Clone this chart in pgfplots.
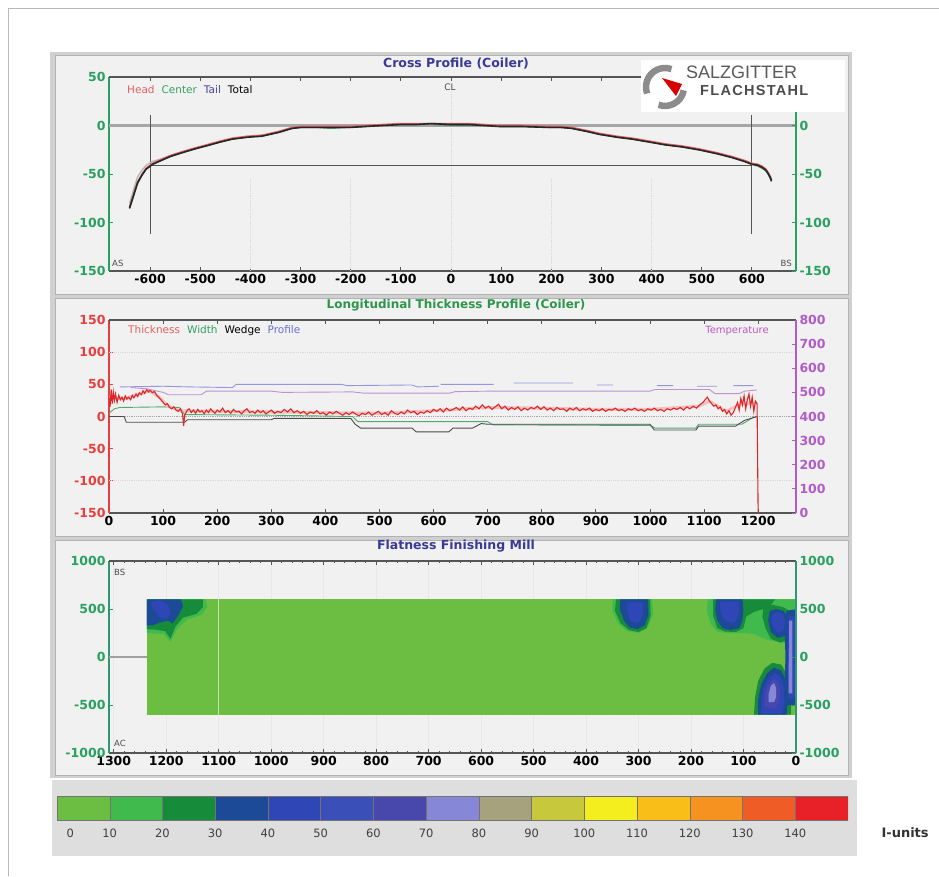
\documentclass[border=0pt]{standalone}
\usepackage{pgfplots}
\pgfplotsset{compat=1.18}
\usepackage{fontspec}
\setmainfont{DejaVu Sans}
\newfontfamily\logofont{Liberation Sans}
\newfontfamily\logowide[LetterSpace=9]{Liberation Sans}

% screen colours
\definecolor{panelbg}{RGB}{241,241,241}
\definecolor{frame}{RGB}{208,208,208}
\definecolor{frameline}{RGB}{178,178,178}
\definecolor{cbbg}{RGB}{222,222,222}
\definecolor{axgreen}{RGB}{40,160,95}
\definecolor{axteal}{RGB}{45,150,115}
\definecolor{axred}{RGB}{232,62,62}
\definecolor{axpurple}{RGB}{178,92,200}
\definecolor{navy}{RGB}{58,58,150}
\definecolor{tgreen}{RGB}{45,150,75}
\definecolor{axdark}{RGB}{85,85,85}
\definecolor{logogray}{RGB}{140,140,140}
% flatness classes in I-units
\definecolor{iu0}{RGB}{108,190,66}
\definecolor{iu1}{RGB}{64,186,76}
\definecolor{iu2}{RGB}{22,140,58}
\definecolor{iu3}{RGB}{28,74,150}
\definecolor{iu4}{RGB}{46,70,182}
\definecolor{iu5}{RGB}{58,80,184}
\definecolor{iu6}{RGB}{72,72,172}
\definecolor{iu7}{RGB}{135,135,215}
\definecolor{iu8}{RGB}{165,162,125}
\definecolor{iu9}{RGB}{200,200,60}
\definecolor{iu10}{RGB}{245,238,30}
\definecolor{iu11}{RGB}{250,190,25}
\definecolor{iu12}{RGB}{246,146,32}
\definecolor{iu13}{RGB}{240,92,38}
\definecolor{iu14}{RGB}{232,32,40}
% series colours
\definecolor{lhead}{RGB}{232,96,96}
\definecolor{lcenter}{RGB}{50,160,100}
\definecolor{ltail}{RGB}{70,70,150}
\definecolor{thk}{RGB}{220,40,40}
\definecolor{thkhalo}{RGB}{245,170,170}
\definecolor{wdg}{RGB}{75,75,75}
\definecolor{wid}{RGB}{80,170,110}
\definecolor{prof}{RGB}{150,150,222}
\definecolor{temp}{RGB}{190,145,210}
\definecolor{lprof}{RGB}{110,110,210}
\definecolor{ltemp}{RGB}{190,90,190}

\pgfplotsset{
  panel/.style={
    scale only axis, width=687pt, anchor=south west,
    /pgf/number format/assume math mode=true,
    /pgf/number format/1000 sep={},
    tick label style={font=\bfseries\fontsize{12.5}{13}\selectfont},
    axis line style={-},
    major tick length=4pt, minor tick length=2pt,
    every x tick/.append style={draw=axdark, line width=0.8pt},
  },
  overlay/.style={panel, axis x line*=top, axis y line*=right,
    xticklabels={}, x axis line style={draw=axdark, line width=1.1pt}},
}

\pgfplotstableread{
x     head  center tail  total
-641  -84   -86    -80   -85
-633  -71   -73    -66   -72
-625  -58   -60    -53   -59
-616  -50   -51    -46   -51
-608  -44   -45    -41   -45
-595  -39   -40    -37   -40
-582  -36   -37    -35   -37
-560  -31   -32    -31   -32
-536  -27   -28    -27   -28
-510  -23   -24    -24   -24
-488  -20   -21    -21   -21
-460  -16   -17    -17   -17
-436  -13   -14    -14   -14
-405  -11   -12    -12   -12
-377  -10   -11    -10   -11
-360  -8    -9     -9    -9
-343  -6    -7     -7    -7
-330  -4    -5     -5    -5
-317  -2    -3     -3    -3
-300  -1    -2     -2    -2
-269  -1    -2     -2    -2
-240  -1    -3     -2    -2
-203  -1    -2     -2    -2
-170   0    -1     -1    -1
-137   1     0      0     0
-100   2     1      1     1
-70    2     1      1     1
-40    2     1      2     2
0      2     0      1     1
36     2     0      1     1
66     1     0      0     0
96     0    -1     -1    -1
140    0    -1     -1    -1
195   -1    -2     -2    -2
220   -1    -2     -2    -2
241   -2    -3     -3    -3
270   -5    -6     -6    -6
295   -8    -9     -9    -9
330   -11   -12    -12   -12
361   -13   -14    -14   -14
395   -16   -17    -17   -17
428   -19   -20    -20   -20
460   -21   -22    -22   -22
494   -24   -25    -25   -25
530   -28   -29    -29   -29
560   -32   -33    -32   -33
585   -36   -37    -36   -37
600   -39   -40    -39   -40
612   -40   -42    -40   -41
620   -42   -44    -42   -43
628   -45   -47    -45   -46
633   -49   -51    -49   -50
637   -53   -55    -53   -54
639   -56   -58    -56   -57
}\crossprofile

\begin{document}
\begin{tikzpicture}[x=1pt,y=1pt]
\path[use as bounding box] (0,0) rectangle (939,876);
\fill[white] (0,0) rectangle (939,876);
\draw[gray!55, line width=0.8pt] (8,0) -- (8,868) -- (939,868);
% window frame and the three panels
\fill[frame] (50,98) rectangle (852,824);
\filldraw[fill=panelbg, draw=frameline] (55,582) rectangle (848,821);
\filldraw[fill=panelbg, draw=frameline] (55,340) rectangle (848,578);
\filldraw[fill=panelbg, draw=frameline] (55,101) rectangle (848,336);
\fill[cbbg] (52,20) rectangle (857,96);

% ---------------- cross profile ----------------
\begin{axis}[panel, at={(109pt,605pt)}, height=194pt,
  xmin=-682, xmax=688, ymin=-150, ymax=50,
  axis x line*=bottom, axis y line*=left,
  x axis line style={draw=axdark, line width=1.1pt},
  y axis line style={draw=axgreen, line width=1.4pt},
  xtick={-600,-500,...,600}, ytick={-150,-100,-50,0,50},
  every y tick/.append style={draw=axgreen, line width=0.8pt},
  yticklabel style={text=axgreen}]
\addplot[gray!30, densely dotted, line width=0.8pt] coordinates {(-400,-150)(-400,-55)};
\addplot[gray!30, densely dotted, line width=0.8pt] coordinates {(-200,-150)(-200,-55)};
\addplot[gray!30, densely dotted, line width=0.8pt] coordinates {(200,-150)(200,-55)};
\addplot[gray!30, densely dotted, line width=0.8pt] coordinates {(400,-150)(400,-55)};
\addplot[gray!30, densely dotted, line width=0.8pt] coordinates {(0,-150)(0,40)};
\addplot[black!35, line width=2.4pt] coordinates {(-682,0)(688,0)};
\addplot[axdark, line width=0.7pt] coordinates {(-600,-41)(600,-41)};
\addplot[axdark, line width=0.8pt] coordinates {(-600,-112)(-600,11)};
\addplot[axdark, line width=0.8pt] coordinates {(600,-112)(600,11)};
\addplot[gray!60, line width=1.2pt] table[x=x, y=tail] {\crossprofile};
\addplot[lcenter!60!gray, line width=1.2pt] table[x=x, y=center] {\crossprofile};
\addplot[lhead, line width=1.5pt] table[x=x, y=head] {\crossprofile};
\addplot[black!85, line width=1.6pt] table[x=x, y=total] {\crossprofile};
\end{axis}
\begin{axis}[overlay, at={(109pt,605pt)}, height=194pt,
  xmin=-682, xmax=688, ymin=-150, ymax=50,
  y axis line style={draw=axgreen, line width=1.4pt},
  xtick={-600,-500,...,600}, ytick={-150,-100,-50,0},
  every y tick/.append style={draw=axgreen, line width=0.8pt},
  yticklabel style={text=axgreen}]
\end{axis}

% ---------------- longitudinal thickness profile ----------------
\begin{axis}[panel, at={(109pt,363pt)}, height=193pt,
  xmin=0, xmax=1270, ymin=-150, ymax=150,
  axis x line*=bottom, axis y line*=left,
  x axis line style={draw=axdark, line width=1.1pt},
  y axis line style={draw=axred, line width=1.4pt},
  xtick={0,100,...,1200}, ytick={-150,-100,...,150},
  every y tick/.append style={draw=axred, line width=0.8pt},
  yticklabel style={text=axred}]
\addplot[gray!30, densely dotted, line width=0.8pt] coordinates {(0,100)(1270,100)};
\addplot[gray!30, densely dotted, line width=0.8pt] coordinates {(0,-100)(1270,-100)};
\addplot[gray!70, densely dotted, line width=0.8pt] coordinates {(0,0)(1270,0)};
% profile
\addplot[prof, line width=0.9pt, unbounded coords=jump] coordinates {
(20,46)(100,47)(150,46)(228,45)(235,50)(430,50)(440,48)(560,49)(570,46)(610,47)
(611,nan)(613,50)(711,50)(712,nan)(748,52)(858,52)(859,nan)(902,49)(932,49)
(933,nan)(1013,48)(1043,48)(1044,nan)(1087,47)(1124,47)(1125,nan)(1154,48)(1191,48)};
% width
\addplot[wid, line width=0.9pt] coordinates {
(0,5)(10,12)(20,14)(100,15)(130,14)(140,3)(300,2)(450,0)(460,-8)(700,-8)
(710,-13)(1000,-14)(1010,-18)(1085,-18)(1090,-12)(1170,-12)(1190,-2)(1198,0)};
% wedge
\addplot[wdg, line width=0.9pt] coordinates {
(0,0)(28,0)(32,-9)(140,-9)(145,-5)(300,-5)(305,-3)(447,-3)(455,-12)(465,-18)
(560,-18)(568,-24)(628,-24)(636,-18)(672,-18)(688,-11)(700,-12)(1000,-12)
(1008,-21)(1085,-21)(1090,-15)(1158,-15)(1175,-6)(1198,0)};
% thickness
\addplot[thkhalo, line width=3pt, opacity=0.7] coordinates {
(0,30)(10,28)(30,28)(60,36)(75,40)(90,32)(110,16)(130,9)(200,8)(400,6)(500,5)(600,9)
(700,14)(800,13)(900,11)(1000,11)(1090,16)(1110,24)(1140,8)(1170,20)(1198,20)};
\addplot[thk, line width=1.1pt] coordinates {
(0,30)(2,15)(4,42)(6,20)(8,38)(10,25)(12,35)(15,22)(18,33)(21,26)(24,30)(27,24)
(30,32)(33,27)(36,30)(40,26)(43,33)(46,29)(50,35)(53,31)(56,37)(60,34)(63,40)
(66,36)(70,42)(73,38)(76,41)(80,37)(84,39)(88,33)(92,30)(96,26)(100,22)(104,18)
(108,20)(112,14)(116,12)(120,15)(124,10)(128,8)(132,12)(136,4)(138,-15)(140,2)
(144,9)(148,12)(152,6)(156,10)(160,5)(164,11)(168,7)(172,9)(176,4)(180,10)
(184,6)(188,12)(192,8)(196,5)(200,10)(205,7)(210,13)(215,6)(220,9)(225,5)
(230,11)(235,7)(240,8)(245,4)(250,9)(255,12)(260,6)(265,8)(270,5)(275,10)
(280,6)(285,9)(290,4)(295,7)(300,10)(306,5)(312,8)(318,6)(324,11)(330,7)
(336,12)(342,6)(348,9)(354,5)(360,8)(366,3)(372,7)(378,5)(384,9)(390,4)
(396,6)(402,2)(408,7)(414,4)(420,8)(426,5)(432,2)(438,6)(444,3)(450,7)
(456,4)(462,1)(468,5)(474,3)(480,7)(486,2)(492,5)(498,8)(504,3)(510,6)
(516,2)(522,9)(528,5)(534,3)(540,7)(546,4)(552,10)(558,6)(564,8)(570,3)
(576,7)(582,5)(588,9)(594,6)(600,11)(606,8)(612,12)(618,7)(624,13)(630,9)
(636,11)(642,14)(648,10)(654,15)(660,9)(666,13)(672,11)(678,16)(684,12)
(690,18)(696,13)(702,16)(708,11)(714,15)(720,19)(726,12)(732,16)(738,10)
(744,14)(750,11)(756,15)(762,9)(768,13)(774,10)(780,14)(786,12)(792,16)
(798,11)(804,15)(810,10)(816,13)(822,9)(828,14)(834,11)(840,12)(846,8)
(852,13)(858,10)(864,14)(870,9)(876,12)(882,10)(888,13)(894,8)(900,11)
(906,9)(912,12)(918,8)(924,11)(930,10)(936,13)(942,9)(948,11)(954,8)
(960,12)(966,10)(972,13)(978,9)(984,11)(990,8)(996,12)(1002,10)(1008,13)
(1014,9)(1020,11)(1026,8)(1032,12)(1038,10)(1044,13)(1050,11)(1056,14)
(1062,10)(1068,15)(1074,12)(1080,16)(1086,13)(1092,18)(1098,22)(1102,26)
(1106,30)(1110,24)(1114,20)(1118,16)(1122,18)(1126,12)(1130,15)(1134,8)
(1138,11)(1142,4)(1146,9)(1150,2)(1154,6)(1158,14)(1162,22)(1165,10)
(1168,28)(1171,18)(1174,32)(1177,12)(1180,26)(1183,35)(1186,16)(1189,30)
(1192,8)(1195,24)(1198,20)(1200,-150)};
\end{axis}
\begin{axis}[overlay, at={(109pt,363pt)}, height=193pt,
  xmin=0, xmax=1270, ymin=0, ymax=800,
  y axis line style={draw=axpurple, line width=1.4pt},
  xtick={0,100,...,1200}, ytick={0,100,...,800},
  every y tick/.append style={draw=axpurple, line width=0.8pt},
  yticklabel style={text=axpurple}]
% temperature
\addplot[temp, line width=0.9pt] coordinates {
(40,520)(70,515)(100,500)(110,490)(170,490)(180,505)(300,505)(320,500)(450,502)
(470,497)(630,497)(640,503)(700,505)(1000,505)(1010,512)(1110,512)(1120,495)
(1165,495)(1175,505)(1198,510)};
\end{axis}

% ---------------- flatness finishing mill ----------------
\begin{axis}[panel, at={(109pt,123pt)}, height=192pt,
  x dir=reverse, xmin=0, xmax=1309, ymin=-1000, ymax=1000,
  axis x line*=bottom, axis y line*=left,
  x axis line style={draw=axdark, line width=1.1pt},
  y axis line style={draw=axteal, line width=1.4pt},
  xtick={0,100,...,1300}, minor xtick={0,20,...,1300},
  ytick={-1000,-500,...,1000},
  xmajorgrids, xminorgrids,
  major grid style={gray!18, line width=0.6pt},
  minor grid style={gray!12, line width=0.6pt},
  every y tick/.append style={draw=axteal, line width=0.8pt},
  yticklabel style={text=axgreen}]
\addplot[gray!75, line width=1.6pt] coordinates {(0,0)(1309,0)};
% strip in the 0-10 class
\addplot[fill=iu0, draw=none] coordinates {(0,-600)(1237,-600)(1237,600)(0,600)} --cycle;
\addplot[draw=iu0!45!white, line width=0.9pt] coordinates {(1100,-600)(1100,600)};
% head end
\addplot[fill=iu1, draw=none] coordinates {(1237,600)(1125,600)(1122,520)(1132,440)(1160,390)(1178,300)(1192,160)(1205,240)(1237,250)} --cycle;
\addplot[fill=iu2, draw=none] coordinates {(1237,600)(1130,600)(1130,520)(1142,450)(1168,410)(1182,320)(1192,190)(1202,270)(1220,285)(1237,290)} --cycle;
\addplot[fill=iu3, draw=none] coordinates {(1237,600)(1172,600)(1168,530)(1176,440)(1188,350)(1196,380)(1212,360)(1225,330)(1237,330)} --cycle;
\addplot[fill=iu4, draw=none] coordinates {(1230,570)(1212,590)(1196,540)(1192,450)(1200,390)(1214,420)(1225,500)} --cycle;
% near 300
\addplot[fill=iu1, draw=none] coordinates {(350,600)(274,600)(272,450)(282,310)(300,250)(322,270)(338,340)(350,480)} --cycle;
\addplot[fill=iu2, draw=none] coordinates {(343,600)(278,600)(277,430)(285,300)(300,260)(318,280)(334,350)(345,480)} --cycle;
\addplot[fill=iu3, draw=none] coordinates {(335,600)(282,600)(281,440)(288,330)(302,290)(318,310)(328,380)(336,500)} --cycle;
\addplot[fill=iu4, draw=none] coordinates {(322,570)(292,570)(291,460)(297,380)(306,350)(316,380)(321,470)} --cycle;
% near 100-160 and the tail end
\addplot[fill=iu1, draw=none] coordinates {(168,600)(0,600)(0,130)(30,150)(55,180)(80,240)(100,250)(125,245)(150,265)(162,340)(170,480)} --cycle;
\addplot[fill=iu2, draw=none] coordinates {(158,600)(40,600)(48,540)(62,500)(80,470)(95,420)(100,300)(115,260)(135,265)(150,300)(158,430)} --cycle;
\addplot[fill=iu3, draw=none] coordinates {(152,600)(102,600)(100,500)(102,380)(108,300)(125,280)(140,300)(150,380)(154,500)} --cycle;
\addplot[fill=iu4, draw=none] coordinates {(144,580)(110,580)(109,480)(112,390)(121,350)(134,370)(142,430)(145,520)} --cycle;
\addplot[fill=iu2, draw=none] coordinates {(62,520)(45,545)(25,520)(12,480)(8,300)(15,180)(30,150)(48,190)(58,300)(64,420)} --cycle;
\addplot[fill=iu3, draw=none] coordinates {(50,480)(38,500)(24,480)(16,420)(15,300)(20,220)(35,200)(48,260)(53,380)} --cycle;
\addplot[fill=iu4, draw=none] coordinates {(44,450)(34,470)(24,440)(20,360)(24,270)(35,250)(44,310)(47,390)} --cycle;
\addplot[fill=iu2, draw=none] coordinates {(80,-600)(78,-420)(72,-250)(60,-120)(45,-60)(28,-80)(15,-200)(8,-400)(10,-600)} --cycle;
\addplot[fill=iu3, draw=none] coordinates {(72,-600)(72,-440)(66,-280)(55,-170)(42,-110)(28,-140)(18,-260)(15,-420)(18,-600)} --cycle;
\addplot[fill=iu4, draw=none] coordinates {(66,-590)(66,-440)(60,-300)(50,-210)(40,-170)(30,-200)(24,-300)(22,-450)(26,-590)} --cycle;
\addplot[fill=iu6, draw=none] coordinates {(60,-520)(60,-420)(55,-320)(48,-250)(40,-230)(33,-270)(30,-360)(32,-470)(40,-540)} --cycle;
\addplot[fill=iu7, draw=none] coordinates {(52,-470)(52,-380)(48,-300)(42,-270)(38,-320)(38,-420)(42,-470)} --cycle;
\addplot[fill=iu3, draw=none] coordinates {(0,-500)(18,-500)(22,-300)(20,0)(22,300)(18,480)(0,500)} --cycle;
\addplot[fill=iu4, draw=none] coordinates {(0,-430)(14,-430)(16,-200)(15,0)(16,250)(14,420)(0,430)} --cycle;
\addplot[fill=iu7, draw=none] coordinates {(7,-380)(14,-380)(14,-100)(13,200)(13,380)(7,380)} --cycle;
\end{axis}
\begin{axis}[overlay, at={(109pt,123pt)}, height=192pt,
  x dir=reverse, xmin=0, xmax=1309, ymin=-1000, ymax=1000,
  y axis line style={draw=axteal, line width=1.4pt},
  xtick={0,100,...,1300}, minor xtick={0,20,...,1300},
  ytick={-1000,-500,...,1000},
  every y tick/.append style={draw=axteal, line width=0.8pt},
  yticklabel style={text=axgreen}]
\end{axis}

% ---------------- colour scale ----------------
\begin{axis}[scale only axis, width=791pt, height=24pt, at={(57pt,56pt)}, anchor=south west,
  xmin=0, xmax=150, ymin=0, ymax=1,
  axis x line*=bottom, axis y line=none,
  x axis line style={draw=none}, major tick length=0pt,
  xtick={2.5,10,20,30,40,50,60,70,80,90,100,110,120,130,140},
  xticklabels={0,10,20,30,40,50,60,70,80,90,100,110,120,130,140},
  /pgf/number format/assume math mode=true,
  xticklabel style={font=\fontsize{11.5}{12}\selectfont, text=black!75, yshift=-5pt}]
\addplot[fill=iu0, draw=black!55] coordinates {(0,0)(10,0)(10,1)(0,1)} --cycle;
\addplot[fill=iu1, draw=black!55] coordinates {(10,0)(20,0)(20,1)(10,1)} --cycle;
\addplot[fill=iu2, draw=black!55] coordinates {(20,0)(30,0)(30,1)(20,1)} --cycle;
\addplot[fill=iu3, draw=black!55] coordinates {(30,0)(40,0)(40,1)(30,1)} --cycle;
\addplot[fill=iu4, draw=black!55] coordinates {(40,0)(50,0)(50,1)(40,1)} --cycle;
\addplot[fill=iu5, draw=black!55] coordinates {(50,0)(60,0)(60,1)(50,1)} --cycle;
\addplot[fill=iu6, draw=black!55] coordinates {(60,0)(70,0)(70,1)(60,1)} --cycle;
\addplot[fill=iu7, draw=black!55] coordinates {(70,0)(80,0)(80,1)(70,1)} --cycle;
\addplot[fill=iu8, draw=black!55] coordinates {(80,0)(90,0)(90,1)(80,1)} --cycle;
\addplot[fill=iu9, draw=black!55] coordinates {(90,0)(100,0)(100,1)(90,1)} --cycle;
\addplot[fill=iu10, draw=black!55] coordinates {(100,0)(110,0)(110,1)(100,1)} --cycle;
\addplot[fill=iu11, draw=black!55] coordinates {(110,0)(120,0)(120,1)(110,1)} --cycle;
\addplot[fill=iu12, draw=black!55] coordinates {(120,0)(130,0)(130,1)(120,1)} --cycle;
\addplot[fill=iu13, draw=black!55] coordinates {(130,0)(140,0)(140,1)(130,1)} --cycle;
\addplot[fill=iu14, draw=black!55] coordinates {(140,0)(150,0)(150,1)(140,1)} --cycle;
\end{axis}

% titles and inline labels
\node[font=\bfseries\fontsize{12.5}{13}\selectfont, text=navy] at (456,812) {Cross Profile (Coiler)};
\node[font=\bfseries\fontsize{12}{13}\selectfont, text=tgreen] at (456,571) {Longitudinal Thickness Profile (Coiler)};
\node[font=\bfseries\fontsize{12.5}{13}\selectfont, text=navy] at (456,330) {Flatness Finishing Mill};
\node[anchor=west, inner sep=0pt, font=\fontsize{10.5}{11}\selectfont] at (127,786)
  {\textcolor{lhead}{Head}\hspace{7pt}\textcolor{lcenter}{Center}\hspace{7pt}\textcolor{ltail}{Tail}\hspace{7pt}Total};
\node[font=\fontsize{9}{10}\selectfont, text=black!70] at (450,789) {CL};
\node[anchor=west, inner sep=0pt, font=\fontsize{8.5}{9}\selectfont, text=black!70] at (112,613) {AS};
\node[anchor=east, inner sep=0pt, font=\fontsize{8.5}{9}\selectfont, text=black!70] at (792,613) {BS};
\node[anchor=west, inner sep=0pt, font=\fontsize{10.5}{11}\selectfont] at (128,545)
  {\textcolor{lhead}{Thickness}\hspace{7pt}\textcolor{lcenter}{Width}\hspace{7pt}Wedge\hspace{7pt}\textcolor{lprof}{Profile}};
\node[font=\fontsize{10}{11}\selectfont, text=ltemp] at (737,545) {Temperature};
\node[anchor=west, inner sep=0pt, font=\fontsize{8.5}{9}\selectfont, text=black!70] at (114,304) {BS};
\node[anchor=west, inner sep=0pt, font=\fontsize{8.5}{9}\selectfont, text=black!70] at (114,133) {AC};
\node[anchor=west, font=\bfseries\fontsize{13}{14}\selectfont, text=black!80] at (878,43) {I-units};

% company logo
\fill[white] (641,764) rectangle (845,816);
\draw[logogray, line width=6.5pt] (665,789) ++(70:19) arc[start angle=70, end angle=200, radius=19];
\draw[logogray, line width=6.5pt] (665,789) ++(250:19) arc[start angle=250, end angle=350, radius=19];
\fill[red!85!black] (662,798) -- (682,792) -- (676,780) -- cycle;
\node[anchor=west, inner sep=0pt, font=\logofont\fontsize{18}{18}\selectfont, text=black!65] at (686,804) {SALZGITTER};
\node[anchor=west, inner sep=0pt, font=\logowide\bfseries\fontsize{14.5}{15}\selectfont, text=black!70] at (700,785) {FLACHSTAHL};
\end{tikzpicture}
\end{document}
